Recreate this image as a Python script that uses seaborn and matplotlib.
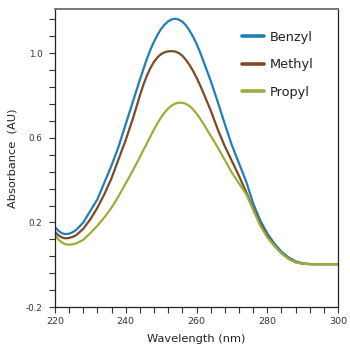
import numpy as np
import pandas as pd
import matplotlib
matplotlib.use("Agg")
import matplotlib.pyplot as plt
import seaborn as sns
from matplotlib.lines import Line2D

wavelength = [220, 221, 222, 223, 224, 225, 226, 228, 230, 232, 234, 236, 238, 240, 242,
              244, 245, 246, 247, 248, 249, 250, 251, 252, 253, 254, 255, 256, 257, 258,
              259, 260, 261, 262, 264, 266, 268, 270, 272, 274, 276, 278, 280, 282, 284,
              286, 288, 290, 292, 294, 296, 298, 300]

benzyl = [0.178, 0.160, 0.149, 0.145, 0.147, 0.154, 0.165, 0.200, 0.255, 0.310, 0.390,
          0.470, 0.560, 0.665, 0.770, 0.875, 0.925, 0.975, 1.018, 1.055, 1.088, 1.115,
          1.136, 1.151, 1.160, 1.163, 1.159, 1.149, 1.132, 1.108, 1.079, 1.045, 1.005,
          0.960, 0.870, 0.770, 0.665, 0.565, 0.480, 0.395, 0.290, 0.210, 0.148, 0.100,
          0.062, 0.035, 0.016, 0.007, 0.004, 0.003, 0.003, 0.003, 0.003]

methyl = [0.155, 0.139, 0.129, 0.125, 0.127, 0.132, 0.140, 0.170, 0.215, 0.270, 0.335,
          0.410, 0.500, 0.590, 0.690, 0.800, 0.852, 0.895, 0.931, 0.960, 0.981, 0.996,
          1.005, 1.009, 1.010, 1.008, 1.001, 0.988, 0.969, 0.945, 0.917, 0.885, 0.849,
          0.810, 0.730, 0.640, 0.560, 0.490, 0.420, 0.345, 0.265, 0.195, 0.135, 0.090,
          0.055, 0.028, 0.012, 0.005, 0.003, 0.003, 0.003, 0.003, 0.003]

propyl = [0.140, 0.119, 0.105, 0.097, 0.095, 0.097, 0.101, 0.118, 0.150, 0.185, 0.225,
          0.270, 0.325, 0.385, 0.445, 0.510, 0.543, 0.575, 0.608, 0.640, 0.670, 0.697,
          0.720, 0.739, 0.753, 0.762, 0.766, 0.766, 0.761, 0.751, 0.735, 0.715, 0.691,
          0.665, 0.610, 0.555, 0.495, 0.435, 0.385, 0.335, 0.260, 0.185, 0.130, 0.090,
          0.055, 0.028, 0.012, 0.005, 0.003, 0.003, 0.003, 0.003, 0.003]

series_names = ["Benzyl", "Methyl", "Propyl"]
colors = ["#1f80b3", "#7c4a26", "#9fac3a"]

x_major = [220, 240, 260, 280, 300]
y_major = [-0.2, 0.2, 0.6, 1.0]
y_labels = ["-0.2", "0.2", "0.6", "1.0"]

df = pd.DataFrame({
    "Wavelength": wavelength * 3,
    "Absorbance": benzyl + methyl + propyl,
    "Compound": [series_names[0]] * len(wavelength)
                + [series_names[1]] * len(wavelength)
                + [series_names[2]] * len(wavelength),
})

sns.set_theme(style="white")
plt.rcParams["font.family"] = ["DejaVu Sans"]

fig = plt.figure(figsize=(3.5, 3.53), dpi=100)
ax = fig.add_axes([0.157, 0.130, 0.809, 0.845])

sns.lineplot(data=df, x="Wavelength", y="Absorbance", hue="Compound",
             palette=colors, hue_order=series_names, linewidth=1.6, ax=ax,
             legend=False)
for ln in ax.get_lines():
    ln.set_solid_joinstyle("round")
    ln.set_solid_capstyle("round")

ax.set_xlim(220, 300)
ax.set_ylim(-0.2, 1.21)

ax.set_xticks(x_major)
ax.set_xticklabels([str(v) for v in x_major], fontsize=6.8, color="#333333")
ax.set_xticks(np.arange(220, 301, 4), minor=True)
ax.set_yticks(y_major)
ax.set_yticklabels(y_labels, fontsize=6.3, color="#333333")
ax.set_yticks(np.arange(-0.2, 1.21, 0.08), minor=True)

ax.tick_params(axis="both", which="both", direction="out", length=4, width=0.8,
               color="#333333", bottom=True, left=True, top=False, right=False)
ax.tick_params(axis="x", which="major", pad=3)
ax.tick_params(axis="y", which="major", pad=5)

for side in ["left", "bottom", "right"]:
    ax.spines[side].set_color("#222222")
    ax.spines[side].set_linewidth(0.9)
ax.spines["top"].set_color("#777777")
ax.spines["top"].set_linewidth(1.4)

ax.set_xlabel("Wavelength (nm)", fontsize=8.2, color="#222222", labelpad=6)
ax.set_ylabel("Absorbance  (AU)", fontsize=8.2, color="#222222", labelpad=6)

handles = [Line2D([0], [0], color=c, linewidth=2.6) for c in colors]
leg = ax.legend(handles, series_names, loc="upper right", frameon=False,
                fontsize=9.3, handlelength=1.7, handletextpad=0.45,
                labelspacing=1.12, bbox_to_anchor=(0.955, 0.965))
for t in leg.get_texts():
    t.set_color("#222222")

fig.savefig("out.png", dpi=100)
